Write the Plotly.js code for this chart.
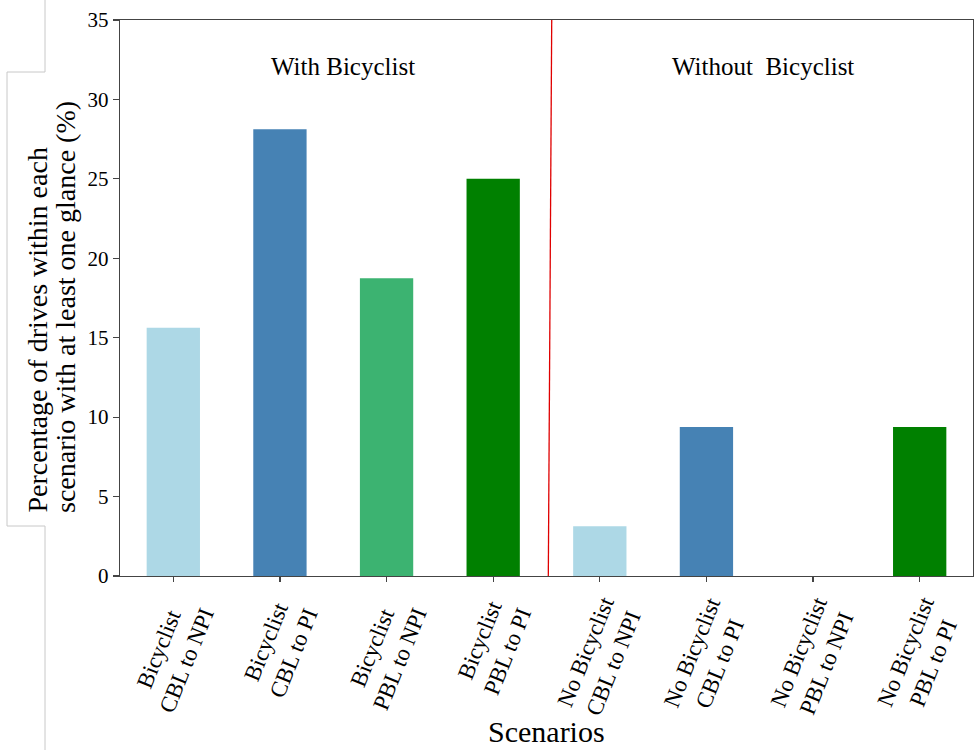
<!DOCTYPE html>
<html>
<head>
<meta charset="utf-8">
<script src="https://cdn.plot.ly/plotly-3.0.1.min.js"></script>
<style>html,body{margin:0;padding:0;background:#fff;}#chart{width:975px;height:750px;}</style>
</head>
<body>
<div id="chart"></div>
<script>
const categories = [
  "Bicyclist<br>CBL to NPI",
  "Bicyclist<br>CBL to PI",
  "Bicyclist<br>PBL to NPI",
  "Bicyclist<br>PBL to PI",
  "No Bicyclist<br>CBL to NPI",
  "No Bicyclist<br>CBL to PI",
  "No Bicyclist<br>PBL to NPI",
  "No Bicyclist<br>PBL to PI"
];
const percentages = [15.625, 28.125, 18.75, 25.0, 3.125, 9.375, 0.0, 9.375];
const barColors = ["#ADD8E6", "#4682B4", "#3CB371", "#008000", "#ADD8E6", "#4682B4", "#3CB371", "#008000"];
const dividerX = [3.549, 3.517];
const dividerY = [35, 0];
const groupLabels = ["With Bicyclist", "Without\u00A0 Bicyclist"];
const groupLabelX = [1.587, 5.533];
const groupLabelY = [32.05, 32.05];
const yTitleLines = ["Percentage of drives within each", "scenario with at least one glance (%)"];
const xTitle = "Scenarios";

const FONT = "Liberation Serif";
const W = 975, H = 750;
const M = {l: 120, r: 2, t: 20, b: 174};
const pw = W - M.l - M.r, ph = H - M.t - M.b;
const px = v => (v - M.l) / pw;
const py = v => (H - M.b - v) / ph;

const traces = [
  {
    type: "bar",
    x: categories,
    y: percentages,
    width: 0.5,
    marker: {color: barColors, line: {width: 0}},
    hoverinfo: "x+y"
  },
  {
    type: "scatter",
    mode: "lines",
    x: dividerX,
    y: dividerY,
    xaxis: "x2",
    line: {color: "#e00000", width: 1.3},
    hoverinfo: "skip"
  }
];

const annotations = [];
categories.forEach((c, i) => {
  annotations.push({
    x: i, xref: "x", y: py(591), yref: "paper",
    text: c, showarrow: false, textangle: -68,
    xanchor: "center", yanchor: "top", align: "center",
    font: {family: FONT, size: 23, color: "#000"}
  });
});
groupLabels.forEach((g, i) => {
  annotations.push({
    x: groupLabelX[i], xref: "x2", y: groupLabelY[i], yref: "y",
    text: g, showarrow: false, xanchor: "center", yanchor: "middle",
    font: {family: FONT, size: 25, color: "#000"}
  });
});
const yTitleX = [37, 65];
yTitleLines.forEach((t, i) => {
  annotations.push({
    x: px(yTitleX[i]), xref: "paper", y: py(515), yref: "paper",
    text: t, showarrow: false, textangle: -90,
    xanchor: "center", yanchor: "bottom",
    font: {family: FONT, size: 28, color: "#000"}
  });
});
annotations.push({
  x: 0.5, xref: "paper", y: py(731), yref: "paper",
  text: xTitle, showarrow: false, xanchor: "center", yanchor: "middle",
  font: {family: FONT, size: 30, color: "#000"}
});

const gray = {color: "#c8c8c8", width: 1};
const segs = [
  [45, 0, 45, 72], [7, 72, 45, 72], [7, 72, 7, 526], [7, 526, 45, 526], [45, 526, 45, 750]
];
const shapes = segs.map(s => ({
  type: "line", xref: "paper", yref: "paper",
  x0: px(s[0]), y0: py(s[1]), x1: px(s[2]), y1: py(s[3]), line: gray
}));

const layout = {
  width: W, height: H,
  margin: M,
  paper_bgcolor: "#fff", plot_bgcolor: "#fff",
  showlegend: false,
  font: {family: FONT, color: "#000"},
  xaxis: {
    type: "category",
    range: [-0.5, 7.5],
    showticklabels: false,
    ticks: "outside", ticklen: 5, tickcolor: "#444", tickwidth: 1.2,
    showline: true, linecolor: "#444", linewidth: 1.2, mirror: true,
    showgrid: false, zeroline: false
  },
  xaxis2: {
    overlaying: "x", range: [-0.5, 7.5], visible: false, showgrid: false, zeroline: false
  },
  yaxis: {
    range: [0, 35],
    tickvals: [0, 5, 10, 15, 20, 25, 30, 35],
    ticks: "outside", ticklen: 6, tickcolor: "#444", tickwidth: 1.2,
    tickfont: {family: FONT, size: 21, color: "#000"},
    showline: true, linecolor: "#444", linewidth: 1.2, mirror: true,
    showgrid: false, zeroline: false
  },
  annotations: annotations,
  shapes: shapes
};

Plotly.newPlot("chart", traces, layout, {displayModeBar: false, staticPlot: true});
</script>
</body>
</html>
